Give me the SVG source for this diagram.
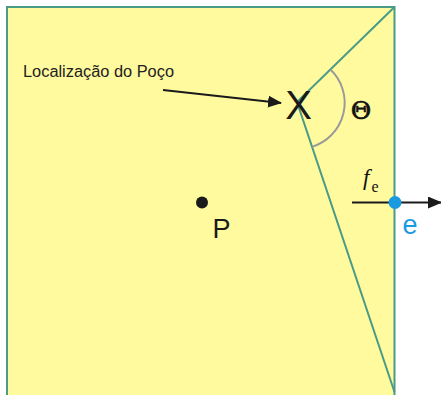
<svg xmlns="http://www.w3.org/2000/svg" width="441" height="395" viewBox="0 0 441 395">
<defs>
<style>
.edge{stroke:#4a9a88;stroke-width:2;fill:none}
.sans{font-family:"Liberation Sans",Arial,sans-serif}
.serif{font-family:"Liberation Serif","Times New Roman",serif}
</style>
<marker id="ah2" markerWidth="14" markerHeight="12" refX="13" refY="6" orient="auto" markerUnits="userSpaceOnUse" viewBox="0 0 14 12">
<path d="M0,0 L14,6 L0,12 Z" fill="#1a1a1a"/>
</marker>
</defs>
<g id="area">
<path d="M7,400 L7,7 L394.5,7 L394.5,400 Z" fill="#fffa9e"/>
<path class="edge" d="M7,400 L7,7 L394.5,7 L394.5,400"/>
</g>
<g id="connectors">
<path class="edge" d="M394.5,7 L297,102 L394.5,392"/>
<path d="M330.7,69.7 A46 46 0 0 1 312.5,146.6" fill="none" stroke="#9a9a9a" stroke-width="2"/>
<line x1="163" y1="90" x2="281" y2="103" stroke="#1a1a1a" stroke-width="2.2" marker-end="url(#ah2)"/>
<line x1="352" y1="202.5" x2="441" y2="202.5" stroke="#1a1a1a" stroke-width="2" marker-end="url(#ah2)"/>
</g>
<g id="label">
<text class="sans" x="23" y="77" font-size="16" fill="#222" textLength="151" lengthAdjust="spacingAndGlyphs">Localização do Poço</text>
</g>
<g id="well">
<text class="sans" x="298.5" y="119" font-size="40" text-anchor="middle" fill="#1a1a1a">X</text>
</g>
<g id="theta">
<text x="361" y="118.5" font-family="'DejaVu Serif',serif" font-size="25" text-anchor="middle" fill="#111" stroke="#111" stroke-width="0.6">Θ</text>
</g>
<g id="P">
<circle cx="202" cy="202.5" r="6" fill="#1a1a1a"/>
<text class="sans" x="221.5" y="238" font-size="27" text-anchor="middle" fill="#1a1a1a">P</text>
</g>
<g id="e">
<text class="serif" x="363" y="185" font-size="23" font-style="italic" fill="#111">f<tspan font-size="16" font-style="normal" dx="2" dy="7">e</tspan></text>
<circle cx="395" cy="202.5" r="6.5" fill="#1a9ae0"/>
<text class="sans" x="410" y="234" font-size="27" text-anchor="middle" fill="#1a9ae0">e</text>
</g>
</svg>
